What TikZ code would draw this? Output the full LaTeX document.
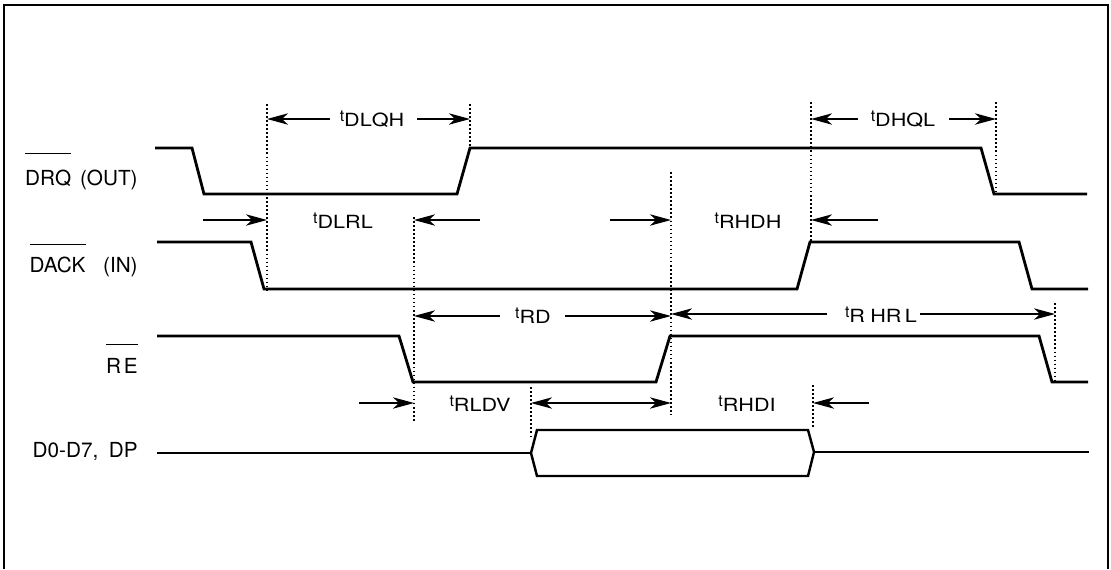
\documentclass[tikz,border=0pt]{standalone}
\usepackage{fontspec}
\setmainfont{TeX Gyre Heros}
\usetikzlibrary{arrows.meta}
\tikzset{
  sig/.style={line width=1.6pt, line join=miter},
  bus/.style={line width=1.4pt, line join=miter},
  guide/.style={line width=0.8pt, dash pattern=on 0.9pt off 1.4pt},
  tarr/.style={-{Stealth[length=12pt,width=6.5pt,inset=3.5pt]}, line width=0.7pt},
  tbi/.style={{Stealth[length=12pt,width=6.5pt,inset=3.5pt]}-{Stealth[length=12pt,width=6.5pt,inset=3.5pt]}, line width=0.7pt},
  siglbl/.style={font=\fontsize{11.8pt}{13pt}\selectfont, inner sep=0pt, anchor=base east},
  tlbl/.style={font=\fontsize{12.3pt}{14pt}\selectfont, inner sep=0pt},
  frame/.style={line width=1.6pt},
}
\newcommand{\sigbar}[2][16pt]{\setbox0\hbox{#2}\rlap{\rule[#1]{\wd0}{0.6pt}}\box0}
\newcommand{\tsub}[1]{{\fontsize{9pt}{10pt}\selectfont t}\raisebox{-2.8pt}{\scalebox{1}[0.84]{#1}}}

\begin{document}
\begin{tikzpicture}[x=0.02cm, y=-0.02cm]
\useasboundingbox (0,0) rectangle (1111,569);
% frame, open at the bottom
\draw[frame] (4,569) -- (4,5) -- (1108,5) -- (1108,569);

% signal names
\node[siglbl] (drq) at (138,185) {\sigbar[17.5pt]{DRQ}\hspace{5pt}(OUT)};
\node[siglbl] (dack) at (138,272) {\sigbar[15.5pt]{DACK}\hspace{10pt}(IN)};
\node[siglbl] (re) at (138,373) {\sigbar[16pt]{R\hspace{1.5pt}E}};
\node[siglbl] (data) at (138,457) {D0-D7,\hspace{6pt}DP};

% waveforms
\draw[sig] (155,148) -- (192,148) -- (204,194) -- (457,194) -- (470,148) -- (981,148) -- (994,194) -- (1087,194);
\draw[sig] (157,242) -- (251,242) -- (264,289) -- (797,289) -- (810,242) -- (1019,242) -- (1032,289) -- (1088,289);
\draw[sig] (157,336) -- (399,336) -- (413,382) -- (656,382) -- (670,336) -- (1039,336) -- (1052,382) -- (1088,382);
\draw[bus] (157,453) -- (531,453);
\draw[bus] (531,453) -- (537,430) -- (808,430) -- (814,452) -- (808,476) -- (537,476) -- cycle;
\draw[bus] (814,452) -- (1089,452);

% dotted reference lines
\foreach \n/\x/\ya/\yb in {A/267/104/290, B/470/104/148, C/414/217/422, D/671/172/415,
                           E/811/102/242, F/996/102/194, G/1055/303/381, H/531/387/437, J/813/385/428}{
  \coordinate (g\n) at (\x,\ya);
  \coordinate (g\n b) at (\x,\yb);
  \draw[guide] (g\n) -- (g\n b);
}

% timing labels
\node[tlbl] (dlqh) at (372,119) {\tsub{DLQH}};
\node[tlbl] (dhql) at (903,119) {\tsub{DHQL}};
\node[tlbl] (dlrl) at (343,221) {\tsub{DLRL}};
\node[tlbl] (rhdh) at (748,221) {\tsub{RHDH}};
\node[tlbl] (rd) at (533,316) {\tsub{RD}};
\node[tlbl] (rhrl) at (881,315) {\tsub{R\hspace{3pt}HR\hspace{2pt}L}};
\node[tlbl] (rldv) at (480,404) {\tsub{RLDV}};
\node[tlbl] (rhdi) at (747,404) {\tsub{RHDI}};

% arrow tails
\coordinate (qhL) at (330,119);
\coordinate (qhR) at (417,119);
\coordinate (qlL) at (858,119);
\coordinate (qlR) at (949,119);
\coordinate (rlL) at (203,220);
\coordinate (rlR) at (480,220);
\coordinate (rhL) at (610,220);
\coordinate (rhR) at (878,220);
\coordinate (rdL) at (500,316);
\coordinate (rdR) at (565,316);
\coordinate (hrL) at (827,314);
\coordinate (hrR) at (920,314);
\coordinate (dvL) at (359,403);
\coordinate (diR) at (869,403);

% timing arrows
\draw[tarr] (qhL) -- (qhL -| gA);
\draw[tarr] (qhR) -- (qhR -| gB);
\draw[tarr] (qlL) -- (qlL -| gE);
\draw[tarr] (qlR) -- (qlR -| gF);
\draw[tarr] (rlL) -- (rlL -| gA);
\draw[tarr] (rlR) -- (rlR -| gC);
\draw[tarr] (rhL) -- (rhL -| gD);
\draw[tarr] (rhR) -- (rhR -| gE);
\draw[tarr] (rdL) -- (rdL -| gC);
\draw[tarr] (rdR) -- (rdR -| gD);
\draw[tarr] (hrL) -- (hrL -| gD);
\draw[tarr] (hrR) -- (hrR -| gG);
\draw[tarr] (dvL) -- (dvL -| gC);
\draw[tbi] (gH |- dvL) -- (gD |- dvL);
\draw[tarr] (diR) -- (diR -| gJ);
\end{tikzpicture}
\end{document}
